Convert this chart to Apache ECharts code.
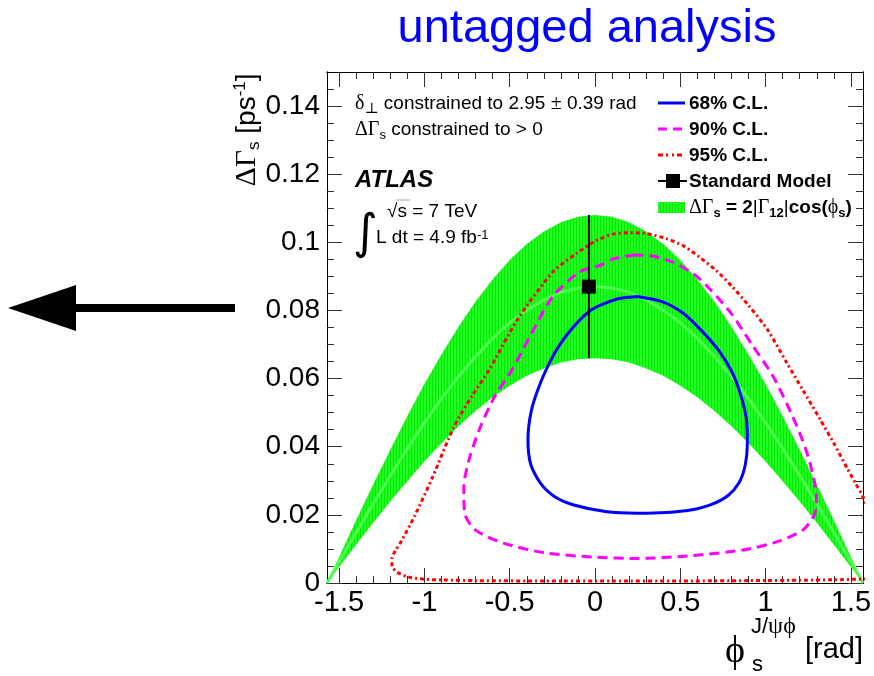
<!DOCTYPE html>
<html>
<head>
<meta charset="utf-8">
<script src="https://cdn.jsdelivr.net/npm/echarts@6/dist/echarts.min.js"></script>
<style>
  html, body { margin: 0; padding: 0; background: #fff; }
  #chart { width: 874px; height: 676px; }
</style>
</head>
<body>
<div id="chart"></div>
<script>
// phi_s axis spans [-pi/2, pi/2]
const HALF_PI = Math.PI / 2;

// Theory band: Delta Gamma_s = 2|Gamma_12| cos(phi_s), upper / lower edge and central value
const phiGrid = [-1.5708, -1.5, -1.4, -1.3, -1.2, -1.1, -1.0, -0.9, -0.8, -0.7, -0.6, -0.5, -0.4, -0.3, -0.2, -0.1,
  0, 0.1, 0.2, 0.3, 0.4, 0.5, 0.6, 0.7, 0.8, 0.9, 1.0, 1.1, 1.2, 1.3, 1.4, 1.5, 1.5708];
const bandUpper = [0, 0.0076, 0.0184, 0.0289, 0.0391, 0.0490, 0.0584, 0.0671, 0.0752, 0.0826, 0.0891, 0.0948, 0.0995, 0.1032, 0.1059, 0.1075,
  0.108, 0.1075, 0.1059, 0.1032, 0.0995, 0.0948, 0.0891, 0.0826, 0.0752, 0.0671, 0.0584, 0.0490, 0.0391, 0.0289, 0.0184, 0.0076, 0];
const bandLower = [0, 0.0047, 0.0112, 0.0177, 0.0239, 0.0299, 0.0357, 0.0410, 0.0460, 0.0505, 0.0545, 0.0579, 0.0608, 0.0630, 0.0647, 0.0657,
  0.066, 0.0657, 0.0647, 0.0630, 0.0608, 0.0579, 0.0545, 0.0505, 0.0460, 0.0410, 0.0357, 0.0299, 0.0239, 0.0177, 0.0112, 0.0047, 0];
const bandCentre = [0, 0.0062, 0.0148, 0.0233, 0.0315, 0.0395, 0.0470, 0.0541, 0.0606, 0.0665, 0.0718, 0.0764, 0.0801, 0.0831, 0.0853, 0.0866,
  0.087, 0.0866, 0.0853, 0.0831, 0.0801, 0.0764, 0.0718, 0.0665, 0.0606, 0.0541, 0.0470, 0.0395, 0.0315, 0.0233, 0.0148, 0.0062, 0];

// 68% C.L. contour (closed)
const cl68Phi = [0.248, 0.393, 0.517, 0.620, 0.723, 0.806, 0.857, 0.888, 0.893, 0.880, 0.845, 0.780, 0.680, 0.560, 0.420, 0.248, 0.060,
  -0.124, -0.238, -0.320, -0.376, -0.393, -0.372, -0.320, -0.258, -0.207, -0.124, -0.021, 0.124, 0.248];
const cl68Val = [0.0841, 0.0826, 0.0792, 0.0743, 0.0684, 0.0616, 0.0547, 0.0479, 0.0410, 0.0345, 0.0295, 0.0257, 0.0230, 0.0214, 0.0207, 0.0205, 0.0210,
  0.0229, 0.0254, 0.0293, 0.0347, 0.0420, 0.0508, 0.0587, 0.0655, 0.0699, 0.0753, 0.0802, 0.0833, 0.0841];

// 90% C.L. contour (closed)
const cl90Phi = [0.225, 0.342, 0.459, 0.579, 0.675, 0.80, 0.92, 1.04, 1.13, 1.20, 1.25, 1.285, 1.298, 1.285, 1.22, 1.074, 0.868, 0.558,
  0.248, 0.0, -0.289, -0.537, -0.702, -0.764, -0.769, -0.733, -0.671, -0.589, -0.486, -0.372, -0.248, -0.091, 0.027, 0.106, 0.225];
const cl90Val = [0.0963, 0.0959, 0.0941, 0.0907, 0.0862, 0.0790, 0.0700, 0.0610, 0.0520, 0.0440, 0.0370, 0.0300, 0.0254, 0.0200, 0.0156, 0.0122, 0.0097, 0.0080,
  0.0072, 0.0076, 0.0088, 0.0117, 0.0156, 0.0205, 0.0283, 0.0371, 0.0459, 0.0547, 0.0626, 0.0733, 0.0841, 0.0913, 0.0932, 0.0951, 0.0963];

// 95% C.L. contour (extends past phi_s = pi/2, clipped by the frame)
const cl95Phi = [1.60, 1.45, 1.20, 0.90, 0.50, 0.10, -0.30, -0.70, -0.89, -1.00, -1.095, -1.16, -1.19, -1.19, -1.17, -1.136, -1.054, -0.95,
  -0.83, -0.72, -0.62, -0.455, -0.247, -0.110, 0.0, 0.104, 0.202, 0.299, 0.416, 0.514, 0.611, 0.709, 0.806, 0.90, 1.012, 1.12, 1.22,
  1.32, 1.40, 1.48, 1.53, 1.57, 1.61, 1.64, 1.64, 1.60];
const cl95Val = [0.0012, 0.0010, 0.0008, 0.0007, 0.0006, 0.0006, 0.0006, 0.0007, 0.0009, 0.0011, 0.0018, 0.0032, 0.0050, 0.0072, 0.0095, 0.0122, 0.0200, 0.0313,
  0.0455, 0.0550, 0.0626, 0.0773, 0.0913, 0.0967, 0.1003, 0.1024, 0.1028, 0.1026, 0.1011, 0.0991, 0.0957, 0.0918, 0.0869, 0.0815, 0.0743, 0.0650, 0.0565,
  0.0480, 0.0410, 0.0335, 0.0290, 0.0254, 0.0200, 0.0120, 0.0050, 0.0012];

// Standard Model prediction
const smPhi = -0.036;
const smVal = 0.087;
const smErr = 0.021;

// Tick positions
const xMajorTicks = [-1.5, -1, -0.5, 0, 0.5, 1, 1.5];
const xMinorTicks = [-1.4, -1.3, -1.2, -1.1, -0.9, -0.8, -0.7, -0.6, -0.4, -0.3, -0.2, -0.1,
  0.1, 0.2, 0.3, 0.4, 0.6, 0.7, 0.8, 0.9, 1.1, 1.2, 1.3, 1.4];
const yMajorTicks = [0, 0.02, 0.04, 0.06, 0.08, 0.1, 0.12, 0.14];
const yMinorTicks = [0.005, 0.01, 0.015, 0.025, 0.03, 0.035, 0.045, 0.05, 0.055, 0.065, 0.07, 0.075,
  0.085, 0.09, 0.095, 0.105, 0.11, 0.115, 0.125, 0.13, 0.135, 0.145];

const SANS = 'Liberation Sans, Arial, Helvetica, sans-serif';
const SERIF = 'Liberation Serif, DejaVu Serif, serif';

// vertical-hatch fill for the theory band
const tile = document.createElement('canvas');
tile.width = 3; tile.height = 4;
const tg = tile.getContext('2d');
tg.fillStyle = '#1cff1c'; tg.fillRect(0, 0, 3, 4);
tg.fillStyle = '#10e010'; tg.fillRect(0, 0, 1, 4);
const hatch = { image: tile, repeat: 'repeat' };

function pairs(xs, ys) { return xs.map((x, i) => [x, ys[i]]); }
function fmt(v) { return String(+(+v).toFixed(3)); }

function xAxisDef(position, ticks, len, withLabels) {
  return {
    type: 'value', gridIndex: 0, position: position, min: -HALF_PI, max: HALF_PI,
    axisLine: { show: true, onZero: false, lineStyle: { color: '#000', width: 1 } },
    axisTick: { show: true, inside: true, length: len, customValues: ticks, lineStyle: { color: '#333', width: 1 } },
    axisLabel: withLabels ? {
      show: true, customValues: ticks, formatter: fmt, margin: 5,
      fontFamily: SANS, fontSize: 29, color: '#000'
    } : { show: false },
    splitLine: { show: false }
  };
}
function yAxisDef(position, ticks, len, withLabels) {
  return {
    type: 'value', gridIndex: 0, position: position, min: 0, max: 0.15,
    axisLine: { show: true, onZero: false, lineStyle: { color: '#000', width: 1 } },
    axisTick: { show: true, inside: true, length: len, customValues: ticks, lineStyle: { color: '#333', width: 1 } },
    axisLabel: withLabels ? {
      show: true, customValues: ticks, formatter: fmt, margin: 7,
      fontFamily: SANS, fontSize: 28, color: '#000'
    } : { show: false },
    splitLine: { show: false }
  };
}

const lineSeries = (name, xs, ys, color, width, type, z) => ({
  name: name, type: 'line', xAxisIndex: 0, yAxisIndex: 0,
  data: pairs(xs, ys), symbol: 'none', smooth: 0.25, clip: true, z: z,
  lineStyle: { color: color, width: width, type: type }, silent: true, animation: false
});

const legendX = 658, legendTextX = 689;
const legendRows = [103, 129, 155, 181, 207];

const option = {
  animation: false,
  backgroundColor: '#fff',
  grid: { left: 327, top: 72, width: 536, height: 511, containLabel: false, outerBoundsMode: 'none' },
  xAxis: [
    xAxisDef('bottom', xMajorTicks, 15, true),
    xAxisDef('bottom', xMinorTicks, 7, false),
    xAxisDef('top', xMajorTicks, 15, false),
    xAxisDef('top', xMinorTicks, 7, false)
  ],
  yAxis: [
    yAxisDef('left', yMajorTicks, 15, true),
    yAxisDef('left', yMinorTicks, 7, false),
    yAxisDef('right', yMajorTicks, 15, false),
    yAxisDef('right', yMinorTicks, 7, false)
  ],
  series: [
    {
      name: 'band', type: 'custom', coordinateSystem: 'cartesian2d', xAxisIndex: 0, yAxisIndex: 0,
      data: [0], z: 1, silent: true, clip: true,
      renderItem: function (params, api) {
        const pts = [];
        for (let i = 0; i < phiGrid.length; i++) pts.push(api.coord([phiGrid[i], bandUpper[i]]));
        for (let i = phiGrid.length - 1; i >= 0; i--) pts.push(api.coord([phiGrid[i], bandLower[i]]));
        return { type: 'polygon', shape: { points: pts }, style: { fill: hatch, stroke: null } };
      }
    },
    Object.assign(lineSeries('centre', phiGrid, bandCentre, '#4cff4c', 3, 'solid', 2), { smooth: false }),
    lineSeries('95% C.L.', cl95Phi, cl95Val, '#ff0000', 3, [4, 3, 2, 3], 3),
    lineSeries('90% C.L.', cl90Phi, cl90Val, '#ff00ff', 3, [10, 6], 4),
    lineSeries('68% C.L.', cl68Phi, cl68Val, '#0000ff', 3, 'solid', 5),
    {
      name: 'SM error', type: 'line', xAxisIndex: 0, yAxisIndex: 0, z: 6, symbol: 'none',
      data: [[smPhi, smVal - smErr], [smPhi, smVal + smErr]],
      lineStyle: { color: '#000', width: 2 }, silent: true
    },
    {
      name: 'Standard Model', type: 'scatter', xAxisIndex: 0, yAxisIndex: 0, z: 7,
      data: [[smPhi, smVal]], symbol: 'rect', symbolSize: 14,
      itemStyle: { color: '#000', opacity: 1 }, silent: true
    }
  ],
  graphic: [
    // title
    { type: 'text', x: 587, y: 29, z: 10, style: {
      text: 'untagged analysis', fill: '#0000ff', font: '47px ' + SANS, align: 'center', verticalAlign: 'middle' } },

    // y-axis title
    { type: 'text', x: 247, y: 130, rotation: Math.PI / 2, z: 10, style: {
      text: '{g|ΔΓ}{sb|s}{t| [ps}{sp|-1}{t|]}', align: 'center', verticalAlign: 'middle',
      rich: {
        g: { font: '30px ' + SERIF, fill: '#000', verticalAlign: 'middle' },
        t: { font: '28px ' + SANS, fill: '#000', verticalAlign: 'middle' },
        sb: { font: '17px ' + SANS, fill: '#000', verticalAlign: 'bottom', padding: [14, 0, 0, 0] },
        sp: { font: '17px ' + SANS, fill: '#000', verticalAlign: 'top' }
      } } },

    // x-axis title
    { type: 'text', x: 725, y: 652, z: 10, style: {
      text: 'ϕ', font: '38px ' + SERIF, fill: '#000', align: 'left', verticalAlign: 'middle' } },
    { type: 'text', x: 751, y: 627, z: 10, style: {
      text: '{t|J/}{g|ψϕ}', align: 'left', verticalAlign: 'middle',
      rich: { t: { font: '22px ' + SANS, fill: '#000' }, g: { font: '24px ' + SERIF, fill: '#000' } } } },
    { type: 'text', x: 752, y: 665, z: 10, style: {
      text: 's', font: '22px ' + SANS, fill: '#000', align: 'left', verticalAlign: 'middle' } },
    { type: 'text', x: 863, y: 650, z: 10, style: {
      text: '[rad]', font: '29px ' + SANS, fill: '#000', align: 'right', verticalAlign: 'middle' } },

    // annotations
    { type: 'text', x: 355, y: 104, z: 10, style: {
      text: '{g|δ}{sb|⊥}{t| constrained to 2.95 }{g|±}{t| 0.39 rad}', align: 'left', verticalAlign: 'middle',
      rich: {
        g: { font: '20px ' + SERIF, fill: '#000' },
        t: { font: '19px ' + SANS, fill: '#000' },
        sb: { font: '15px ' + SERIF, fill: '#000', verticalAlign: 'bottom', padding: [10, 0, 0, 0] }
      } } },
    { type: 'text', x: 355, y: 130, z: 10, style: {
      text: '{g|ΔΓ}{sb|s}{t| constrained to > 0}', align: 'left', verticalAlign: 'middle',
      rich: {
        g: { font: '20px ' + SERIF, fill: '#000' },
        t: { font: '19px ' + SANS, fill: '#000' },
        sb: { font: '13px ' + SANS, fill: '#000', verticalAlign: 'bottom', padding: [10, 0, 0, 0] }
      } } },
    { type: 'text', x: 355, y: 180, z: 10, style: {
      text: 'ATLAS', font: 'italic bold 24px ' + SANS, fill: '#000', align: 'left', verticalAlign: 'middle' } },
    { type: 'text', x: 353, y: 236, z: 10, style: {
      text: '∫', font: '48px DejaVu Sans, sans-serif', fill: '#000', align: 'left', verticalAlign: 'middle' } },
    { type: 'text', x: 387, y: 212, z: 10, style: {
      text: '√s = 7 TeV', font: '19px ' + SANS, fill: '#000', align: 'left', verticalAlign: 'middle' } },
    { type: 'line', z: 10, shape: { x1: 396, y1: 200, x2: 410, y2: 200 }, style: { stroke: '#aaa', lineWidth: 1 } },
    { type: 'text', x: 376, y: 238, z: 10, style: {
      text: '{t|L dt = 4.9 fb}{sp|-1}', align: 'left', verticalAlign: 'middle',
      rich: {
        t: { font: '19px ' + SANS, fill: '#000' },
        sp: { font: '13px ' + SANS, fill: '#000', verticalAlign: 'top' }
      } } },

    // legend
    { type: 'line', z: 10, shape: { x1: legendX, y1: legendRows[0], x2: legendX + 27, y2: legendRows[0] },
      style: { stroke: '#0000ff', lineWidth: 3 } },
    { type: 'line', z: 10, shape: { x1: legendX, y1: legendRows[1], x2: legendX + 27, y2: legendRows[1] },
      style: { stroke: '#ff00ff', lineWidth: 3, lineDash: [9, 6] } },
    { type: 'line', z: 10, shape: { x1: legendX, y1: legendRows[2], x2: legendX + 27, y2: legendRows[2] },
      style: { stroke: '#ff0000', lineWidth: 3, lineDash: [5, 3, 2, 4, 2, 3] } },
    { type: 'line', z: 10, shape: { x1: legendX, y1: legendRows[3], x2: legendX + 29, y2: legendRows[3] },
      style: { stroke: '#000', lineWidth: 2 } },
    { type: 'rect', z: 11, shape: { x: legendX + 8, y: legendRows[3] - 7, width: 14, height: 14 },
      style: { fill: '#000' } },
    { type: 'rect', z: 10, shape: { x: legendX, y: legendRows[4] - 5, width: 27, height: 11 },
      style: { fill: hatch } },
    { type: 'text', x: legendTextX, y: legendRows[0] + 1, z: 10, style: {
      text: '68% C.L.', font: 'bold 19px ' + SANS, fill: '#000', align: 'left', verticalAlign: 'middle' } },
    { type: 'text', x: legendTextX, y: legendRows[1] + 1, z: 10, style: {
      text: '90% C.L.', font: 'bold 19px ' + SANS, fill: '#000', align: 'left', verticalAlign: 'middle' } },
    { type: 'text', x: legendTextX, y: legendRows[2] + 1, z: 10, style: {
      text: '95% C.L.', font: 'bold 19px ' + SANS, fill: '#000', align: 'left', verticalAlign: 'middle' } },
    { type: 'text', x: legendTextX, y: legendRows[3] + 1, z: 10, style: {
      text: 'Standard Model', font: 'bold 19px ' + SANS, fill: '#000', align: 'left', verticalAlign: 'middle' } },
    { type: 'text', x: legendTextX, y: legendRows[4] + 1, z: 10, style: {
      text: '{g|ΔΓ}{sb|s}{t| = 2}{r||}{g|Γ}{sb|12}{r||}{t|cos(}{g|ϕ}{sb|s}{t|)}', align: 'left', verticalAlign: 'middle',
      rich: {
        g: { font: '20px ' + SERIF, fill: '#000' },
        t: { font: 'bold 19px ' + SANS, fill: '#000' },
        r: { font: '19px ' + SANS, fill: '#000' },
        sb: { font: 'bold 13px ' + SANS, fill: '#000', verticalAlign: 'bottom', padding: [10, 0, 0, 0] }
      } } },

    // arrow
    { type: 'polygon', z: 10, shape: { points: [[8, 308], [76, 285], [76, 304], [235, 304], [235, 312], [76, 312], [76, 331]] },
      style: { fill: '#000' } }
  ]
};

const chart = echarts.init(document.getElementById('chart'), null, { renderer: 'canvas' });
chart.setOption(option);
</script>
</body>
</html>
